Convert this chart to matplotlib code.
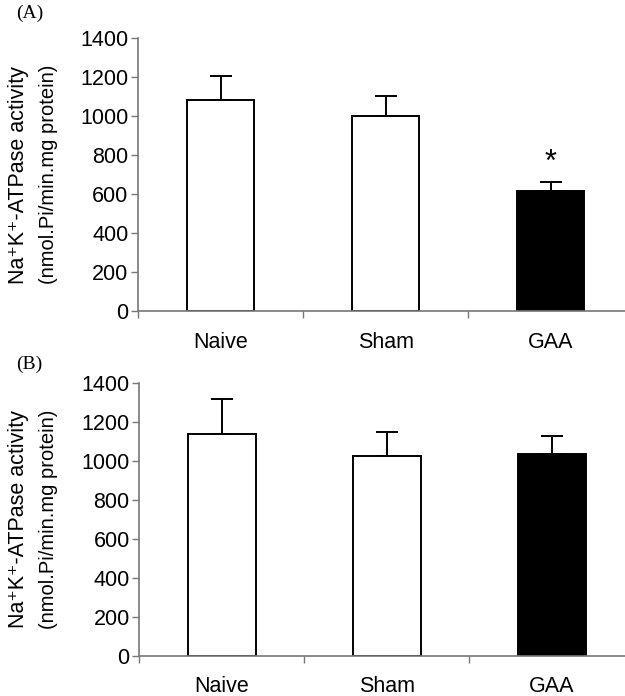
import numpy as np
import matplotlib.pyplot as plt

# Na+K+-ATPase activity per group, two experiments
groups = ['Naive', 'Sham', 'GAA']
mean_a = [1085, 1000, 615]
sem_a = [120, 105, 48]
mean_b = [1135, 1022, 1035]
sem_b = [183, 124, 90]
colors = ['white', 'white', 'black']
yticks = [0, 200, 400, 600, 800, 1000, 1200, 1400]

plt.rcParams['font.family'] = ['Liberation Sans', 'DejaVu Sans']

fig = plt.figure(figsize=(6.25, 6.96), dpi=100)

def panel(rect, means, sems, tag, tag_y, star=None):
    ax = fig.add_axes(rect)
    x = np.arange(len(groups))
    ax.bar(x, means, width=0.41, color=colors, edgecolor='black', linewidth=1.4, zorder=2)
    ax.errorbar(x, means, yerr=[np.zeros(len(sems)), sems], fmt='none',
                ecolor='black', elinewidth=1.4, capsize=8, capthick=1.4, zorder=1)
    if star is not None:
        ax.text(star, means[star] + sems[star] + 20, '*', ha='center', va='bottom', fontsize=22)
    ax.set_xlim(-0.5, 2.5)
    ax.set_ylim(0, 1400)
    ax.set_yticks(yticks)
    ax.set_yticklabels([str(v) for v in yticks], fontsize=15.5)
    ax.set_xticks(x)
    ax.set_xticklabels(groups, fontsize=15.5)
    ax.tick_params(axis='x', length=0, pad=15)
    ax.set_xticks([-0.5, 0.5, 1.5, 2.5], minor=True)
    ax.tick_params(axis='x', which='minor', length=5, color='#777777', width=1)
    ax.tick_params(axis='y', length=5, color='#777777', width=1, pad=2)
    for s in ['top', 'right']:
        ax.spines[s].set_visible(False)
    for s in ['left', 'bottom']:
        ax.spines[s].set_color('#777777')
        ax.spines[s].set_linewidth(1.2)
    # two-line axis label
    yc = rect[1] + rect[3] / 2
    fig.text(0.029, yc, 'Na\u207aK\u207a-ATPase activity', rotation=90,
             ha='center', va='center', fontsize=15.5)
    fig.text(0.078, yc, '(nmol.Pi/min.mg protein)', rotation=90,
             ha='center', va='center', fontsize=14.5)
    fig.text(0.047, tag_y, tag, ha='center', va='center', fontsize=14,
             family='Liberation Serif')
    return ax

panel([0.221, 0.553, 0.792, 0.392], mean_a, sem_a, '(A)', 0.981, star=2)
panel([0.223, 0.058, 0.792, 0.392], mean_b, sem_b, '(B)', 0.477)

fig.savefig('out.png', dpi=100, facecolor='white')
